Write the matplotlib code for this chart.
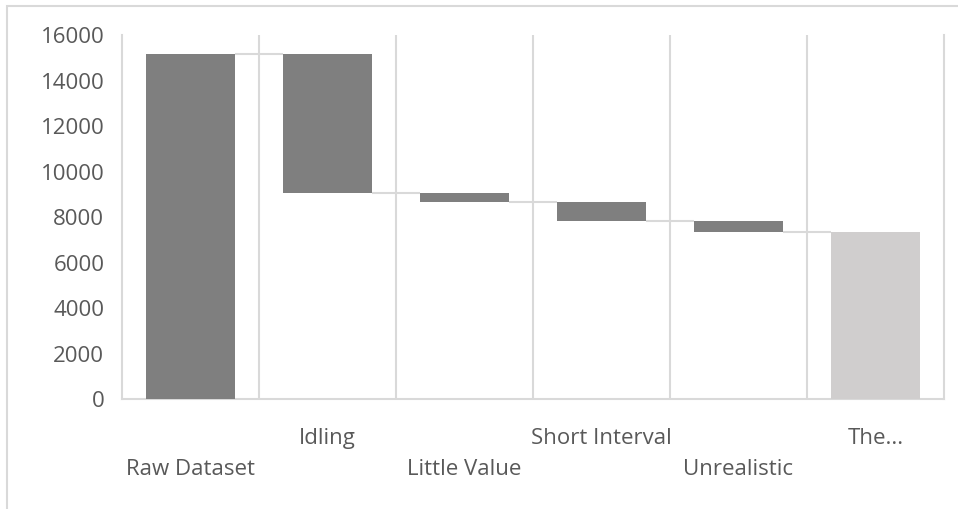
import numpy as np
import matplotlib
matplotlib.use("Agg")
import matplotlib.pyplot as plt
from matplotlib.patches import Rectangle

categories = ["Raw Dataset", "Idling", "Little Value", "Short Interval", "Unrealistic", "The..."]
start_value = 15150
changes = [-6110, -370, -850, -480]

plt.rcParams['font.family'] = ['Open Sans', 'DejaVu Sans']

grid_col = "#d9d9d9"
text_col = "#595959"
dark = "#7f7f7f"
light = "#d0cece"
w = 0.65
fs = 16

fig = plt.figure(figsize=(9.58, 5.09), dpi=100)
ax = fig.add_axes([0.127, 0.2155, 0.8584, 0.7157])

# running levels of the waterfall
levels = [start_value]
for c in changes:
    levels.append(levels[-1] + c)
total = levels[-1]

bottoms = [0]
heights = [start_value]
for i, c in enumerate(changes):
    bottoms.append(levels[i] + c)
    heights.append(-c)
bottoms.append(0)
heights.append(total)
colors = [dark] * (len(categories) - 1) + [light]

x = np.arange(len(categories))
ax.bar(x, heights, bottom=bottoms, width=w, color=colors, zorder=3)

# connector lines between bars
for i in range(len(categories) - 1):
    ax.hlines(levels[i], i + w / 2, i + 1 - w / 2, color=grid_col, lw=1.5, zorder=2)

# vertical gridlines at category boundaries
for b in np.arange(0.5, len(categories) - 0.5, 1):
    ax.axvline(b, color=grid_col, lw=1.5, zorder=1)

ax.set_xlim(-0.5, len(categories) - 0.5)
ax.set_ylim(0, 16000)
ax.set_yticks(np.arange(0, 16001, 2000))
ax.set_xticks([])
ax.tick_params(axis='y', length=0, pad=12.5, labelsize=fs, labelcolor=text_col)

for s in ['left', 'bottom', 'right']:
    ax.spines[s].set_color(grid_col)
    ax.spines[s].set_linewidth(1.5)
ax.spines['top'].set_visible(False)

# staggered category labels
for i, name in enumerate(categories):
    off = 28 if i % 2 == 1 else 50.5
    ax.annotate(name, xy=(i, 0), xycoords=('data', 'axes fraction'),
                xytext=(0, -off), textcoords='offset points',
                ha='center', va='center', fontsize=fs, color=text_col)

# chart area border
fig.add_artist(Rectangle((7 / 958, -0.2), 1.2, 1.2 - 6 / 509, transform=fig.transFigure,
                         fill=False, edgecolor=grid_col, lw=1.5))

fig.savefig("out.png", dpi=100)
